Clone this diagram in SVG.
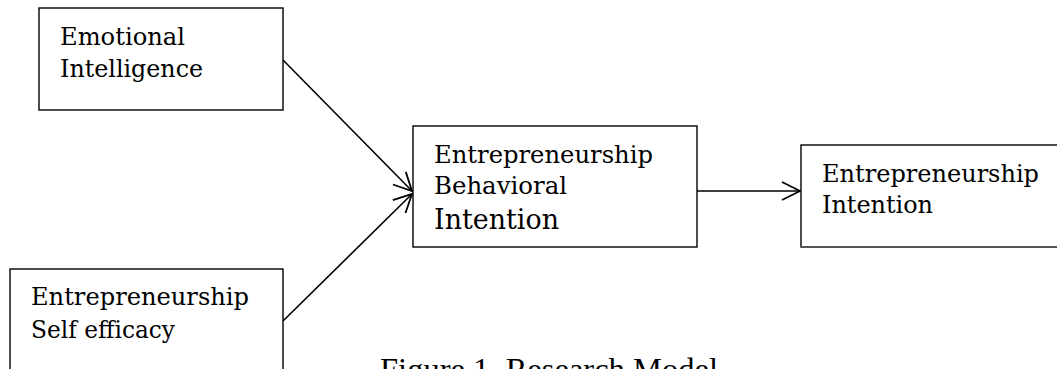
<svg xmlns="http://www.w3.org/2000/svg" width="1057" height="369" viewBox="0 0 1057 369">
<defs>
<style>
.box{fill:#fff;stroke:#000;stroke-width:1.4}
.t{font-family:"DejaVu Serif","Liberation Serif",serif;font-size:24px;fill:#000}
.big{font-size:27px}
.cap{font-family:"Liberation Serif","DejaVu Serif",serif;font-size:31px;fill:#000}
.conn{stroke:#000;stroke-width:1.6;fill:none}
</style>
<marker id="arr" viewBox="0 0 20 20" refX="19" refY="10" markerWidth="20" markerHeight="20" markerUnits="userSpaceOnUse" orient="auto">
<path d="M1,1 L19,10 L1,19" fill="none" stroke="#000" stroke-width="1.8"/>
</marker>
</defs>
<rect width="1057" height="369" fill="#fff"/>
<g id="connectors">
<line class="conn" x1="283" y1="60" x2="412" y2="191" marker-end="url(#arr)"/>
<line class="conn" x1="283" y1="321" x2="412" y2="194" marker-end="url(#arr)"/>
<line class="conn" x1="697" y1="191" x2="800" y2="191" marker-end="url(#arr)"/>
</g>
<g id="emotional-intelligence">
<rect class="box" x="39" y="8" width="244" height="102"/>
<text class="t" x="60" y="45" textLength="125" lengthAdjust="spacingAndGlyphs">Emotional</text>
<text class="t" x="60" y="77" textLength="143" lengthAdjust="spacingAndGlyphs">Intelligence</text>
</g>
<g id="self-efficacy">
<rect class="box" x="10" y="269" width="273" height="120"/>
<text class="t" x="31" y="305" textLength="218" lengthAdjust="spacingAndGlyphs">Entrepreneurship</text>
<text class="t" x="31" y="338" textLength="144" lengthAdjust="spacingAndGlyphs">Self efficacy</text>
</g>
<g id="behavioral-intention">
<rect class="box" x="413" y="126" width="284" height="121"/>
<text class="t" x="434" y="163" textLength="219" lengthAdjust="spacingAndGlyphs">Entrepreneurship</text>
<text class="t" x="434" y="194" textLength="133" lengthAdjust="spacingAndGlyphs">Behavioral</text>
<text class="t big" x="434" y="229" textLength="125" lengthAdjust="spacingAndGlyphs">Intention</text>
</g>
<g id="entrepreneurship-intention">
<rect class="box" x="801" y="145" width="270" height="102"/>
<line x1="801" y1="247" x2="1057" y2="247" stroke="#555" stroke-width="2"/>
<text class="t" x="822" y="182" textLength="217" lengthAdjust="spacingAndGlyphs">Entrepreneurship</text>
<text class="t" x="822" y="213" textLength="111" lengthAdjust="spacingAndGlyphs">Intention</text>
</g>
<text class="cap" x="380" y="380" textLength="338" lengthAdjust="spacingAndGlyphs">Figure 1. Research Model</text>
</svg>
